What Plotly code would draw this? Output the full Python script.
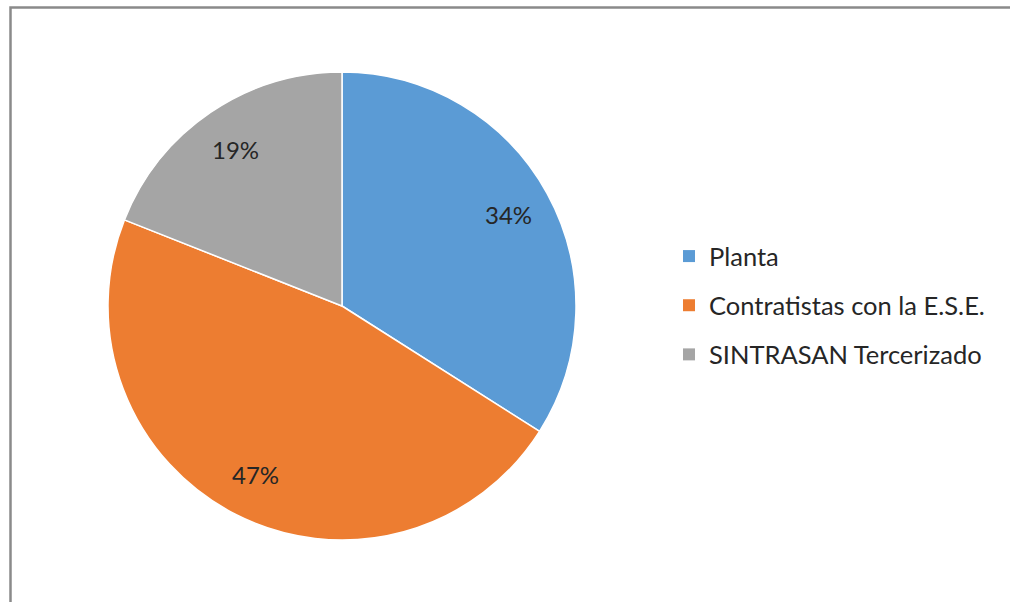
import math
import plotly.graph_objects as go

labels = ["Planta", "Contratistas con la E.S.E.", "SINTRASAN Tercerizado"]
values = [34, 47, 19]
colors = ["#5B9BD5", "#ED7D31", "#A5A5A5"]

W, H = 1010, 602
FONT = "Lato"

# pie placement in pixels
CX, CY, R = 342, 306, 234

fig = go.Figure()

# the pie itself (legend drawn by dummy traces so the entries can be spaced out)
fig.add_trace(
    go.Pie(
        labels=labels,
        values=values,
        sort=False,
        direction="clockwise",
        rotation=0,
        marker=dict(colors=colors, line=dict(color="white", width=1.5)),
        textinfo="none",
        domain=dict(x=[(CX - R) / W, (CX + R) / W], y=[1 - (CY + R) / H, 1 - (CY - R) / H]),
        showlegend=False,
        hoverinfo="label+percent",
    )
)

# percent labels near the outer edge of each slice, like the Office default
total = sum(values)
start = 0.0
for v in values:
    frac = v / total
    mid = (start + frac / 2) * 2 * math.pi
    start += frac
    px = CX + 0.81 * R * math.sin(mid)
    py = CY - 0.81 * R * math.cos(mid)
    fig.add_annotation(
        x=px / W,
        y=1 - py / H,
        xref="paper",
        yref="paper",
        xanchor="center",
        yanchor="middle",
        text=f"{round(frac * 100)}%",
        showarrow=False,
        font=dict(size=24, color="#262626", family=FONT),
    )

for i, (lab, col) in enumerate(zip(labels, colors)):
    fig.add_trace(
        go.Scatter(
            x=[None],
            y=[None],
            mode="markers",
            name=lab,
            legendgroup=f"g{i}",
            marker=dict(symbol="square", size=12, color=col),
        )
    )

# chart frame (only top/left edges fall inside the canvas)
fig.add_shape(
    type="rect",
    xref="paper",
    yref="paper",
    x0=10.5 / W,
    x1=1.02,
    y0=-0.02,
    y1=1 - 7.5 / H,
    line=dict(color="#8a8a8a", width=2.5),
)

fig.update_layout(
    width=W,
    height=H,
    margin=dict(l=0, r=0, t=0, b=0),
    paper_bgcolor="white",
    plot_bgcolor="white",
    xaxis=dict(visible=False),
    yaxis=dict(visible=False),
    legend=dict(
        x=669 / W,
        y=1 - 233 / H,
        xanchor="left",
        yanchor="top",
        traceorder="grouped",
        tracegroupgap=13,
        font=dict(size=25.5, color="#262626", family=FONT),
        bgcolor="rgba(0,0,0,0)",
    ),
)

fig.write_html(
    "out.html",
    config={"displayModeBar": False},
    post_script="document.body.style.margin='0';document.body.style.overflow='hidden';",
)
